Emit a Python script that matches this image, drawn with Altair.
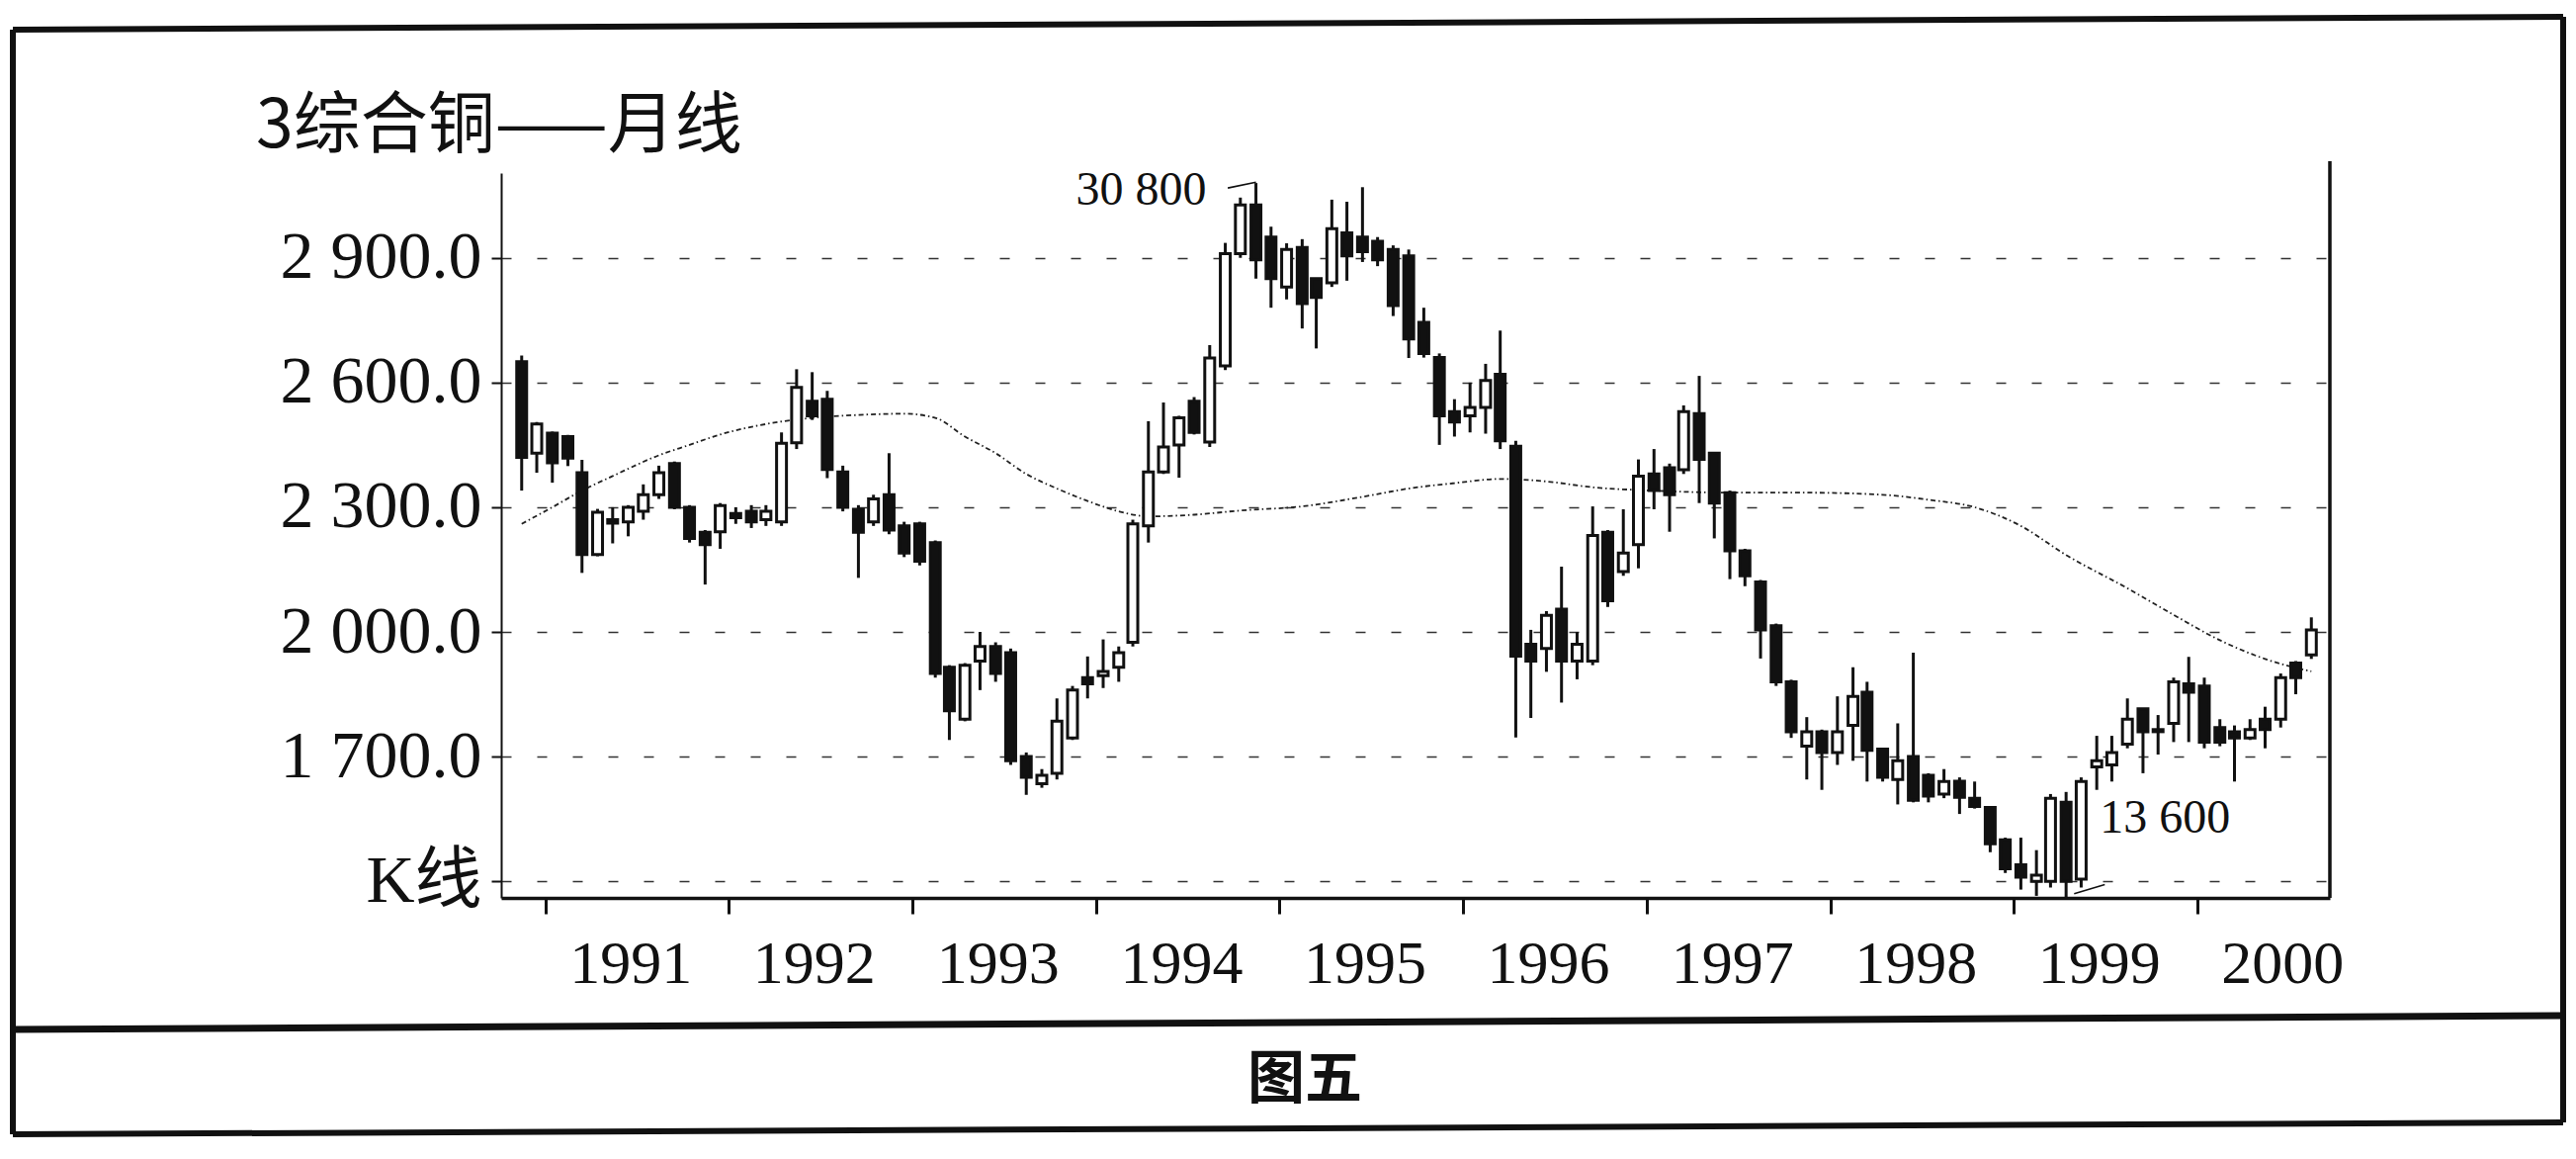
import altair as alt
import pandas as pd

# ---------------- data ----------------
# monthly candles, Nov 1990 .. Aug 2000 (value unit = 10 yuan / t)
dates = []
for k in range(118):
    yy = 1990 + (10 + k) // 12
    mm = (10 + k) % 12 + 1
    dates.append(f"{yy}-{mm:02d}-15")

opens = [2650, 2430, 2478, 2470, 2383, 2186, 2270, 2265, 2290, 2330,
         2405, 2300, 2240, 2241, 2285, 2290, 2270, 2265, 2455, 2555,
         2560, 2385, 2295, 2265, 2330, 2255, 2260, 2215, 1915, 1790,
         1930, 1965, 1950, 1700, 1635, 1660, 1745, 1890, 1895, 1915,
         1975, 2255, 2385, 2450, 2555, 2457, 2640, 2910, 3027, 2950,
         2830, 2925, 2850, 2840, 2960, 2950, 2940, 2920, 2905, 2745,
         2660, 2530, 2520, 2540, 2620, 2447, 1970, 1960, 2055, 1930,
         1930, 2240, 2145, 2210, 2380, 2395, 2390, 2525, 2430, 2335,
         2195, 2120, 2015, 1880, 1725, 1760, 1710, 1775, 1855, 1718,
         1645, 1700, 1655, 1610, 1641, 1600, 1578, 1500, 1440, 1400,
         1400, 1590, 1405, 1675, 1680, 1730, 1815, 1760, 1780, 1875,
         1870, 1770, 1760, 1745, 1790, 1790, 1925, 1945]
highs = [2665, 2505, 2482, 2474, 2414, 2296, 2300, 2305, 2355, 2400,
         2410, 2305, 2245, 2310, 2300, 2305, 2305, 2480, 2632, 2625,
         2580, 2400, 2305, 2330, 2430, 2265, 2265, 2220, 1920, 1925,
         2000, 1975, 1960, 1710, 1670, 1840, 1870, 1941, 1982, 1965,
         2270, 2507, 2552, 2520, 2565, 2690, 2936, 3045, 3080, 2975,
         2935, 2945, 2850, 3040, 3035, 3070, 2950, 2930, 2920, 2780,
         2670, 2560, 2600, 2645, 2725, 2460, 2005, 2050, 2157, 2000,
         2302, 2245, 2295, 2415, 2440, 2405, 2545, 2616, 2430, 2340,
         2200, 2125, 2020, 1885, 1795, 1765, 1845, 1915, 1880, 1720,
         1780, 1950, 1660, 1670, 1650, 1640, 1580, 1505, 1505, 1475,
         1610, 1615, 1650, 1750, 1750, 1840, 1815, 1800, 1890, 1940,
         1890, 1790, 1775, 1790, 1820, 1900, 1930, 2035]
lows = [2340, 2383, 2359, 2399, 2142, 2182, 2213, 2230, 2270, 2320,
        2295, 2215, 2114, 2200, 2260, 2250, 2255, 2255, 2440, 2510,
        2370, 2290, 2130, 2255, 2235, 2180, 2160, 1890, 1740, 1785,
        1860, 1880, 1680, 1608, 1625, 1645, 1740, 1840, 1865, 1880,
        1965, 2215, 2380, 2371, 2475, 2445, 2630, 2900, 2850, 2780,
        2800, 2730, 2682, 2830, 2845, 2890, 2880, 2760, 2659, 2660,
        2450, 2470, 2480, 2477, 2440, 1746, 1793, 1904, 1830, 1886,
        1920, 2060, 2135, 2153, 2295, 2241, 2380, 2310, 2225, 2127,
        2110, 1936, 1870, 1745, 1645, 1620, 1680, 1690, 1640, 1640,
        1585, 1590, 1590, 1600, 1562, 1575, 1470, 1420, 1380, 1365,
        1385, 1360, 1385, 1620, 1640, 1720, 1660, 1705, 1735, 1735,
        1720, 1725, 1640, 1740, 1720, 1770, 1850, 1935]
closes = [2420, 2500, 2407, 2418, 2186, 2288, 2262, 2300, 2330, 2383,
          2300, 2225, 2210, 2304, 2275, 2265, 2290, 2454, 2588, 2520,
          2391, 2300, 2240, 2320, 2245, 2190, 2170, 1900, 1810, 1920,
          1965, 1900, 1690, 1650, 1655, 1785, 1860, 1875, 1905, 1950,
          2260, 2385, 2445, 2515, 2480, 2659, 2910, 3027, 2895, 2850,
          2920, 2790, 2805, 2970, 2905, 2915, 2895, 2785, 2705, 2670,
          2520, 2505, 2540, 2605, 2460, 1942, 1930, 2040, 1930, 1970,
          2232, 2075, 2190, 2375, 2340, 2330, 2530, 2415, 2310, 2195,
          2135, 2005, 1880, 1760, 1760, 1710, 1760, 1845, 1715, 1650,
          1690, 1595, 1605, 1640, 1602, 1580, 1490, 1430, 1410, 1415,
          1600, 1400, 1640, 1690, 1710, 1790, 1760, 1765, 1880, 1855,
          1735, 1735, 1745, 1765, 1765, 1890, 1890, 2005]

# moving-average line, read at sample months
ma_dates = ["1990-11-15", "1991-01-15", "1991-03-15", "1991-05-15", "1991-08-15",
            "1991-10-15", "1991-12-15", "1992-03-15", "1992-06-15", "1992-09-15",
            "1992-12-15", "1993-02-15", "1993-04-15", "1993-06-15", "1993-08-15",
            "1993-10-15", "1993-12-15", "1994-02-15", "1994-04-15", "1994-07-15",
            "1994-10-15", "1995-02-15", "1995-06-15", "1995-09-15", "1995-12-15",
            "1996-03-15", "1996-06-15", "1996-09-15", "1997-01-15", "1997-06-15",
            "1997-11-15", "1998-04-15", "1998-07-15", "1998-10-15", "1999-01-15",
            "1999-04-15", "1999-08-15", "1999-11-15", "2000-02-15", "2000-05-15",
            "2000-08-15"]
ma_values = [2260, 2300, 2340, 2375, 2425, 2450, 2475, 2500, 2515, 2522,
             2525, 2515, 2470, 2430, 2380, 2345, 2315, 2290, 2278, 2282,
             2292, 2302, 2325, 2345, 2358, 2368, 2362, 2348, 2340, 2335,
             2335, 2330, 2318, 2300, 2255, 2185, 2105, 2041, 1980, 1935,
             1905]

y_ticks = [1400, 1700, 2000, 2300, 2600, 2900]
year_ticks = [1991, 1992, 1993, 1994, 1995, 1996, 1997, 1998, 1999, 2000]

ann_labels = ["30 800", "13 600"]
ann_dates = ["1994-11-15", "1999-04-15"]
ann_values = [3080, 1360]
lead_dates = [["1994-09-20", "1994-11-15"], ["1999-05-01", "1999-07-01"]]
lead_values = [[3068, 3082], [1370, 1392]]

title_text = "3综合铜——月线"
caption_text = "图五"

# ---------------- tables ----------------
df = pd.DataFrame({"date": dates, "open": opens, "high": highs,
                   "low": lows, "close": closes})
ma_df = pd.DataFrame({"date": ma_dates, "ma": ma_values})
ann_df = pd.DataFrame({"date": ann_dates, "value": ann_values, "label": ann_labels})
lead_df = pd.DataFrame({"d1": [d[0] for d in lead_dates], "d2": [d[1] for d in lead_dates],
                        "v1": [v[0] for v in lead_values], "v2": [v[1] for v in lead_values]})
dummy = pd.DataFrame({"k": [0]})

W, H = 1850, 733
INK = "#111111"
SERIF = "Liberation Serif, Noto Sans CJK SC"

x_scale = alt.Scale(type="utc", domain=[alt.DateTime(year=1990, month=10, date=15, utc=True),
                                        alt.DateTime(year=2000, month=9, date=11, utc=True)])
x_axis = alt.Axis(values=[alt.DateTime(year=y, month=1, date=1, utc=True) for y in year_ticks],
                  labelExpr="utcFormat(datum.value, '%Y')", labelOffset=86,
                  labelFont=SERIF, labelFontSize=62, labelColor=INK, labelPadding=20,
                  labelOverlap=False, labelFlush=False, labelLimit=400,
                  tickSize=16, tickWidth=3, tickColor=INK,
                  domainColor=INK, domainWidth=3.5, grid=False, title=None)
y_scale = alt.Scale(domain=[1360, 3104], nice=False, zero=False)
y_axis = alt.Axis(values=y_ticks,
                  labelExpr="datum.value == 1400 ? 'K线' : replace(format(datum.value, ',.1f'), ',', ' ')",
                  labelFont=SERIF, labelFontSize=68, labelColor=INK, labelPadding=10,
                  labelLimit=500,
                  tickSize=10, tickWidth=2, tickColor=INK,
                  domainColor=INK, domainWidth=2,
                  grid=True, gridColor="#333333", gridWidth=1.4, gridDash=[10, 26],
                  title=None)

X = alt.X("date:T", scale=x_scale, axis=x_axis)

ma_line = alt.Chart(ma_df).mark_line(color="#222222", strokeWidth=1.8,
                                     strokeDash=[5, 3, 1.5, 3], interpolate="monotone").encode(
    x=X, y=alt.Y("ma:Q", scale=y_scale, axis=y_axis))

wicks = alt.Chart(df).mark_rule(color=INK, strokeWidth=3).encode(
    x=X, y=alt.Y("low:Q", scale=y_scale, axis=y_axis), y2="high:Q")

bodies = alt.Chart(df).mark_bar(size=10, stroke=INK, strokeWidth=3).encode(
    x=X, y=alt.Y("open:Q", scale=y_scale, axis=y_axis), y2="close:Q",
    fill=alt.condition("datum.close >= datum.open", alt.value("white"), alt.value(INK)))

leaders = alt.Chart(lead_df).mark_rule(color=INK, strokeWidth=1.6).encode(
    x=alt.X("d1:T", scale=x_scale, axis=x_axis), x2="d2:T",
    y=alt.Y("v1:Q", scale=y_scale, axis=y_axis), y2="v2:Q")

ann_top = alt.Chart(ann_df).transform_filter(alt.datum.label == ann_labels[0]).mark_text(
    align="right", baseline="middle", dx=-50, dy=8, fontSize=48, font=SERIF, color=INK).encode(
    x=X, y=alt.Y("value:Q", scale=y_scale, axis=y_axis), text="label:N")
ann_low = alt.Chart(ann_df).transform_filter(alt.datum.label == ann_labels[1]).mark_text(
    align="left", baseline="middle", dx=34, dy=-80, fontSize=48, font=SERIF, color=INK).encode(
    x=X, y=alt.Y("value:Q", scale=y_scale, axis=y_axis), text="label:N")

right_line = alt.Chart(dummy).mark_rule(color=INK, strokeWidth=3.5).encode(
    x=alt.value(W), y=alt.value(-12), y2=alt.value(H))

title = alt.Chart(dummy).mark_text(text=title_text, align="left", baseline="middle",
                                    fontSize=68, font="Noto Sans CJK SC", color=INK).encode(
    x=alt.value(-248), y=alt.value(-46))
caption = alt.Chart(dummy).mark_text(text=caption_text, align="center", baseline="middle",
                                      fontSize=58, fontWeight="bold", font="Noto Sans CJK SC",
                                      color=INK).encode(x=alt.value(813), y=alt.value(918))


def seg(x1, y1, x2, y2, w=6):
    return alt.Chart(dummy).mark_rule(color=INK, strokeWidth=w).encode(
        x=alt.value(x1), y=alt.value(y1), x2=alt.value(x2), y2=alt.value(y2))


frame = [
    seg(-494, -145, 2086, -158),   # top
    seg(-494, -145, -494, 972),    # left
    seg(2086, -158, 2086, 960),    # right
    seg(-494, 972, 2086, 960),     # bottom
    seg(-494, 866, 2086, 852, 7),  # separator above caption
]

chart = alt.layer(ma_line, wicks, bodies, leaders, ann_top, ann_low, right_line,
                  title, caption, *frame).properties(
    width=W, height=H,
    padding={"left": 499, "top": 167, "right": 241, "bottom": 256},
    autosize=alt.AutoSizeParams(type="none"),
    background="white",
).configure_view(stroke="transparent")

chart.save("out.html", embed_options={"renderer": "svg", "actions": False})
